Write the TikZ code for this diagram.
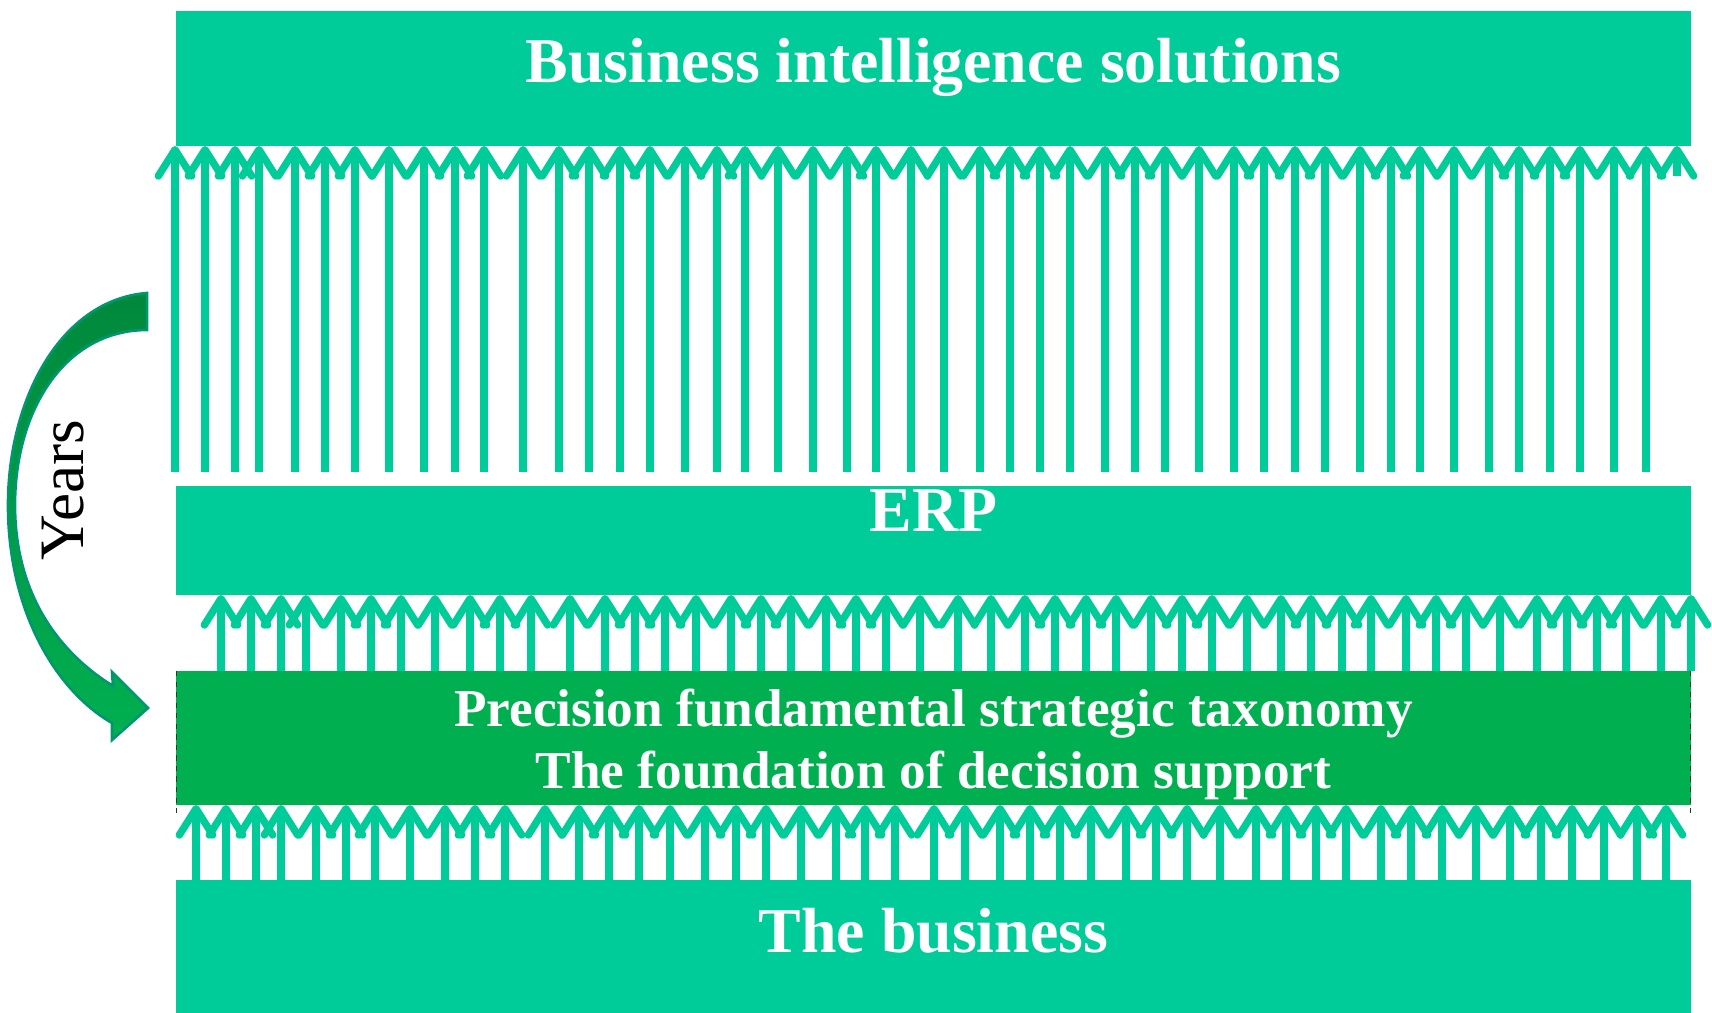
\documentclass[tikz,border=0pt]{standalone}
\usepackage{fontspec}
\setmainfont{Liberation Serif}
\usepackage{xcolor}
\usepackage{tikz}
\usetikzlibrary{arrows.meta,calc}
\definecolor{tealbar}{RGB}{0,204,153}
\definecolor{deepgreen}{RGB}{0,176,80}
\definecolor{darkgreen}{RGB}{0,136,60}
\definecolor{rimgreen}{RGB}{0,150,110}

\begin{document}
\begin{tikzpicture}[x=0.02cm,y=-0.02cm,
	bar/.style={fill=tealbar, minimum width=30.3cm, inner sep=0pt, outer sep=0pt},
	bartext/.style={text=white, font=\bfseries\fontsize{36.3}{40}\selectfont, anchor=base},
	uparrow/.style={draw=tealbar, line width=4.2pt, -{Straight Barb[length=15pt,width=19pt,round]}}]
	\useasboundingbox (0,0) rectangle (1712,1013);
	% layers
	\node[bar, minimum height=2.7cm] (bi) at (933.5,78.5) {};
	\node[bar, minimum height=2.18cm] (erp) at (933.5,540.5) {};
	\node[bar, fill=deepgreen, minimum height=2.68cm] (found) at (933.5,738) {};
	\node[bar, minimum height=2.66cm] (biz) at (933.5,946.5) {};
	\draw[dashed, line width=0.6pt, black!80] (found.north west) -- ++(0,147);
	\draw[dashed, line width=0.6pt, black!80] (found.north east) -- ++(0,147);
	\node[bartext] (bitext) at (933.5,83) {Business intelligence solutions};
	\node[bartext] (erptext) at (933.5,532) {ERP};
	\node[bartext, font=\bfseries\fontsize{30.3}{36}\selectfont] (precision) at (933.5,726) {Precision fundamental strategic taxonomy};
	\node[bartext, font=\bfseries\fontsize{30.3}{36}\selectfont] (foundation) at (933.5,788) {The foundation of decision support};
	\node[bartext] (biztext) at (933.5,952) {The business};
	% arrows
	\foreach \x in {175,205,235,259,295,325,355,389,424,455,484,523,559,589,620,650,685,717,745,778,813,847,876,911,
		944,980,1010,1040,1070,1105,1135,1165,1199,1234,1264,1295,1325,1360,1391,1420,1454,1489,1519,1550,1580,1614,1646}
		\draw[uparrow] (\x,472) -- (\x,0 |- bi.south);
	\draw[uparrow] (1677,176) -- (1677,0 |- bi.south);
	\foreach \x in {221,251,281,306,341,371,401,435,470,500,531,570,605,635,665,696,731,761,791,826,856,886,920,
		958,991,1025,1055,1086,1116,1151,1182,1212,1247,1281,1311,1342,1371,1406,1436,1466,1500,1537,1567,1597,1626,1661,1691}
		\draw[uparrow] (\x,0 |- found.north) -- (\x,0 |- erp.south);
	\foreach \x in {196,226,256,281,316,346,375,410,445,475,505,545,579,609,639,670,705,736,766,801,836,865,895,
		934,965,1000,1030,1060,1091,1126,1156,1187,1220,1256,1286,1316,1346,1381,1411,1442,1476,1510,1541,1572,1604,1637,1666}
		\draw[uparrow] (\x,0 |- biz.north) -- (\x,0 |- found.south);
	% years
	\shade[top color=darkgreen, bottom color=deepgreen, draw=rimgreen, line width=1.5pt]
		(147,293) .. controls (60,300) and (8,400) .. (8,505)
		.. controls (8,610) and (55,690) .. (112,723)
		-- (112,740) -- (148,708) -- (112,672) -- (113,686)
		.. controls (55,650) and (15,590) .. (15,505)
		.. controls (15,410) and (65,330) .. (147,330) -- cycle;
	\node[rotate=90, font=\fontsize{36}{40}\selectfont] (years) at (63,490) {Years};
\end{tikzpicture}
\end{document}
